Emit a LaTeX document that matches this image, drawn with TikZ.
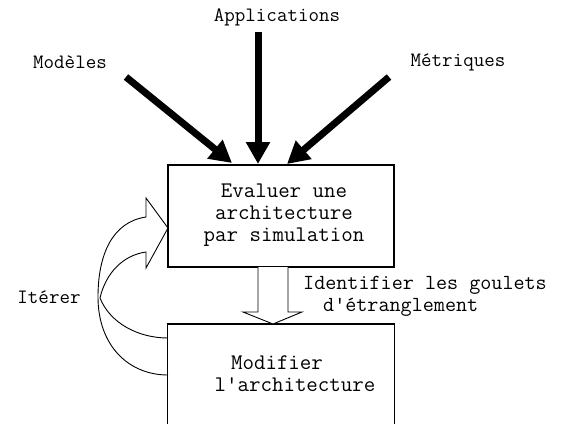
\documentclass[tikz,border=0pt]{standalone}
\usepackage{fontspec}
\usetikzlibrary{arrows.meta}

\tikzset{
  x=1pt, y=-1pt,
  label text/.style={font=\ttfamily\fontsize{20.4}{23}\selectfont, inner sep=0pt},
  side text/.style={font=\ttfamily\fontsize{21.5}{23}\selectfont, inner sep=0pt, anchor=west},
  box text/.style={font=\ttfamily\fontsize{22.3}{22}\selectfont, inner sep=0pt, align=center},
  boxframe/.style={draw, line width=1.1pt},
  bigarrow/.style={line width=7pt, -{Triangle[width=23pt,length=22pt]}},
  thinline/.style={line width=0.9pt},
}

\begin{document}
\begin{tikzpicture}
\useasboundingbox (0,0) rectangle (562,423);

% input labels
\node[label text] (app) at (277,17) {Applications};
\node[label text] (mod) at (70,62) {Modèles};
\node[label text] (met) at (458,62) {Métriques};

% evaluation box
\node[boxframe, minimum width=226pt, minimum height=102pt, inner sep=0pt] (eval) at (281,216) {};
\node[box text] (evaltxt) at (284,215) {Evaluer une\\architecture\\par simulation};

% modification box (open at the bottom)
\node[minimum width=226pt, minimum height=100pt, inner sep=0pt, anchor=north] (modif) at (281,324) {};
\draw[line width=1.1pt] (modif.south west) |- (modif.north east) -- (modif.south east);
\node[box text] (modtxt1) at (277,363) {Modifier};
\node[box text] (modtxt2) at (295,385) {l'architecture};

% thick input arrows
\coordinate (modstart) at (126,77);
\coordinate (modend) at (232,163);
\coordinate (appstart) at (258,32);
\coordinate (append) at (258,164);
\coordinate (metstart) at (389,77);
\coordinate (metend) at (287,164);
\draw[bigarrow] (modstart) -- (modend);
\draw[bigarrow] (appstart) -- (append);
\draw[bigarrow] (metstart) -- (metend);

% hollow arrow between the boxes
\coordinate (hollowtip) at (273,324);
\draw[thinline, fill=white, line join=miter]
  (258,267) -- (258,312) -- (243,312) -- (hollowtip) -- (302,312) -- (288,312) -- (288,267);
\node[side text] (ident1) at (303,285) {Identifier les goulets};
\node[side text] (ident2) at (323,307) {d'étranglement};

% curved feedback arrow
\node[label text] (iter) at (49,297) {Itérer};
\draw[thinline, line join=miter]
  (168,375) .. controls (128,375) and (98,345) .. (98,297)
  .. controls (98,255) and (112,222) .. (146,217)
  -- (146,198) -- (168,228) -- (146,268) -- (146,252)
  .. controls (124,255) and (106,272) .. (100,298)
  .. controls (110,323) and (138,338) .. (168,338);
\end{tikzpicture}
\end{document}
